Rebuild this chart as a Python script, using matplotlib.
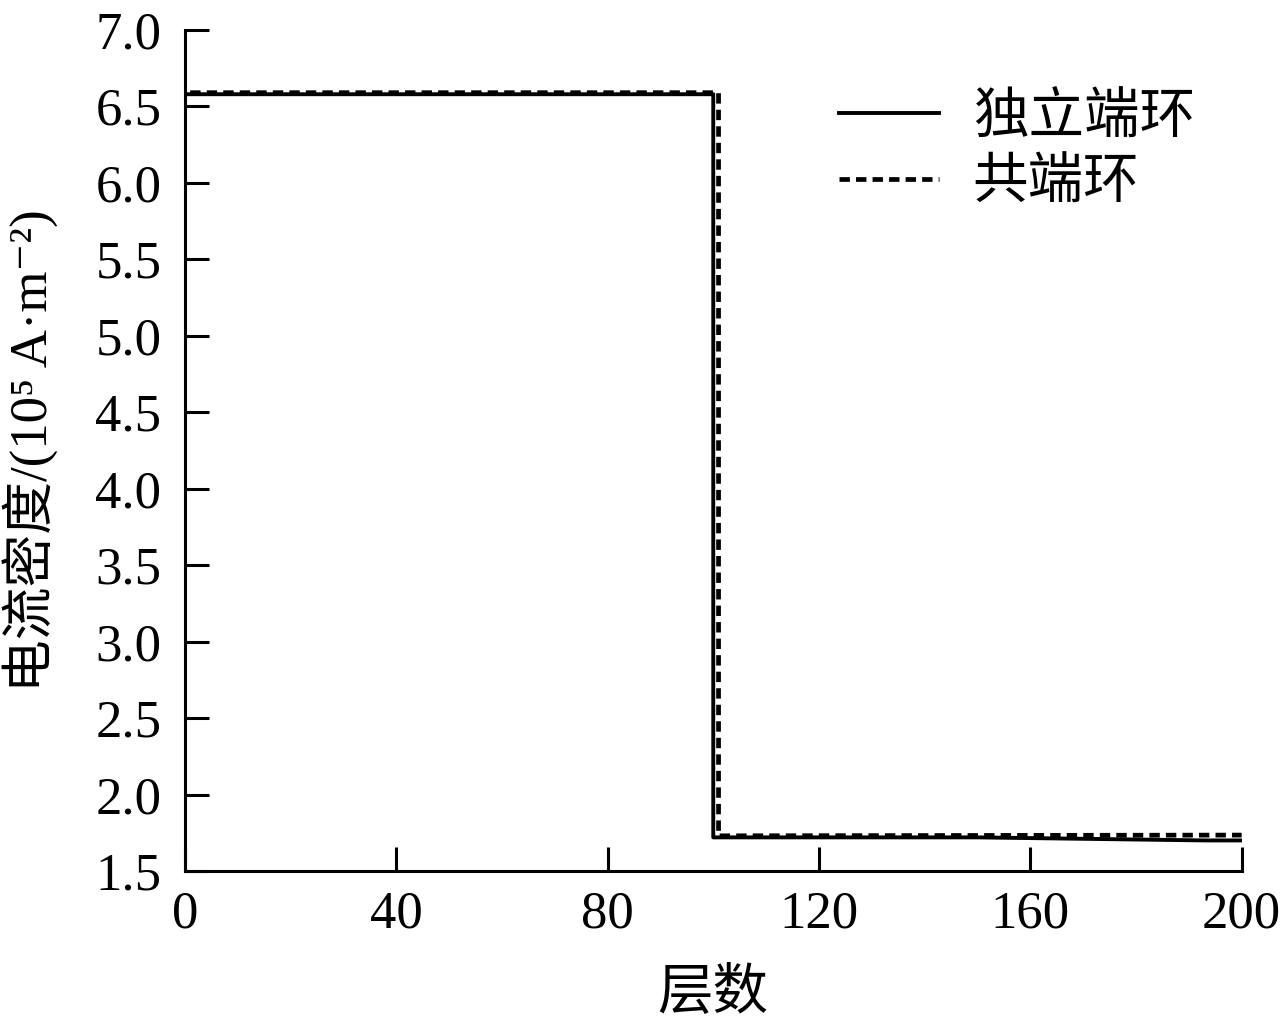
import matplotlib

matplotlib.use("Agg")
import matplotlib.pyplot as plt

plt.rcParams["font.family"] = ["Liberation Serif", "Noto Sans CJK SC", "DejaVu Sans"]

# 独立端环 (solid) and 共端环 (dotted) current density vs layer
layers_indep = [0, 100, 100, 150, 193, 200]
density_indep = [6.58, 6.58, 1.72, 1.72, 1.70, 1.70]
layers_shared = [1, 101, 101, 200]
density_shared = [6.59, 6.59, 1.73, 1.735]

xticks = [0, 40, 80, 120, 160, 200]
yticks = [1.5, 2.0, 2.5, 3.0, 3.5, 4.0, 4.5, 5.0, 5.5, 6.0, 6.5, 7.0]

fig = plt.figure(figsize=(12.84, 10.24), dpi=100)
ax = fig.add_axes((0.144, 0.1494, 0.823, 0.8213))

ax.plot(layers_indep, density_indep, color="black", linewidth=2.8, label="独立端环")
ax.plot(layers_shared, density_shared, color="black", linewidth=3.4,
        linestyle=(0, (2.2, 1.3)), label="共端环")

ax.set_xlim(0, 200)
ax.set_ylim(1.5, 7.0)
ax.set_xticks(xticks)
ax.set_yticks(yticks)
ax.set_yticklabels([f"{v:.1f}" for v in yticks])
ax.tick_params(direction="in", length=17, width=2.2, labelsize=38)
ax.tick_params(axis="y", pad=17)
ax.tick_params(axis="x", pad=14)
for s in ("top", "right"):
    ax.spines[s].set_visible(False)
for s in ("left", "bottom"):
    ax.spines[s].set_linewidth(2.2)

ax.set_xlabel("层数", fontsize=40, labelpad=22)
ax.set_ylabel("电流密度/(10⁵ A·m⁻²)", fontsize=38)
ax.yaxis.set_label_coords(-0.12, 0.5)

leg = ax.legend(loc="upper right", bbox_to_anchor=(1.003, 0.985), frameon=False,
                fontsize=40, handlelength=1.8, handletextpad=0.6, labelspacing=0.25)

fig.savefig("out.png", dpi=100)
